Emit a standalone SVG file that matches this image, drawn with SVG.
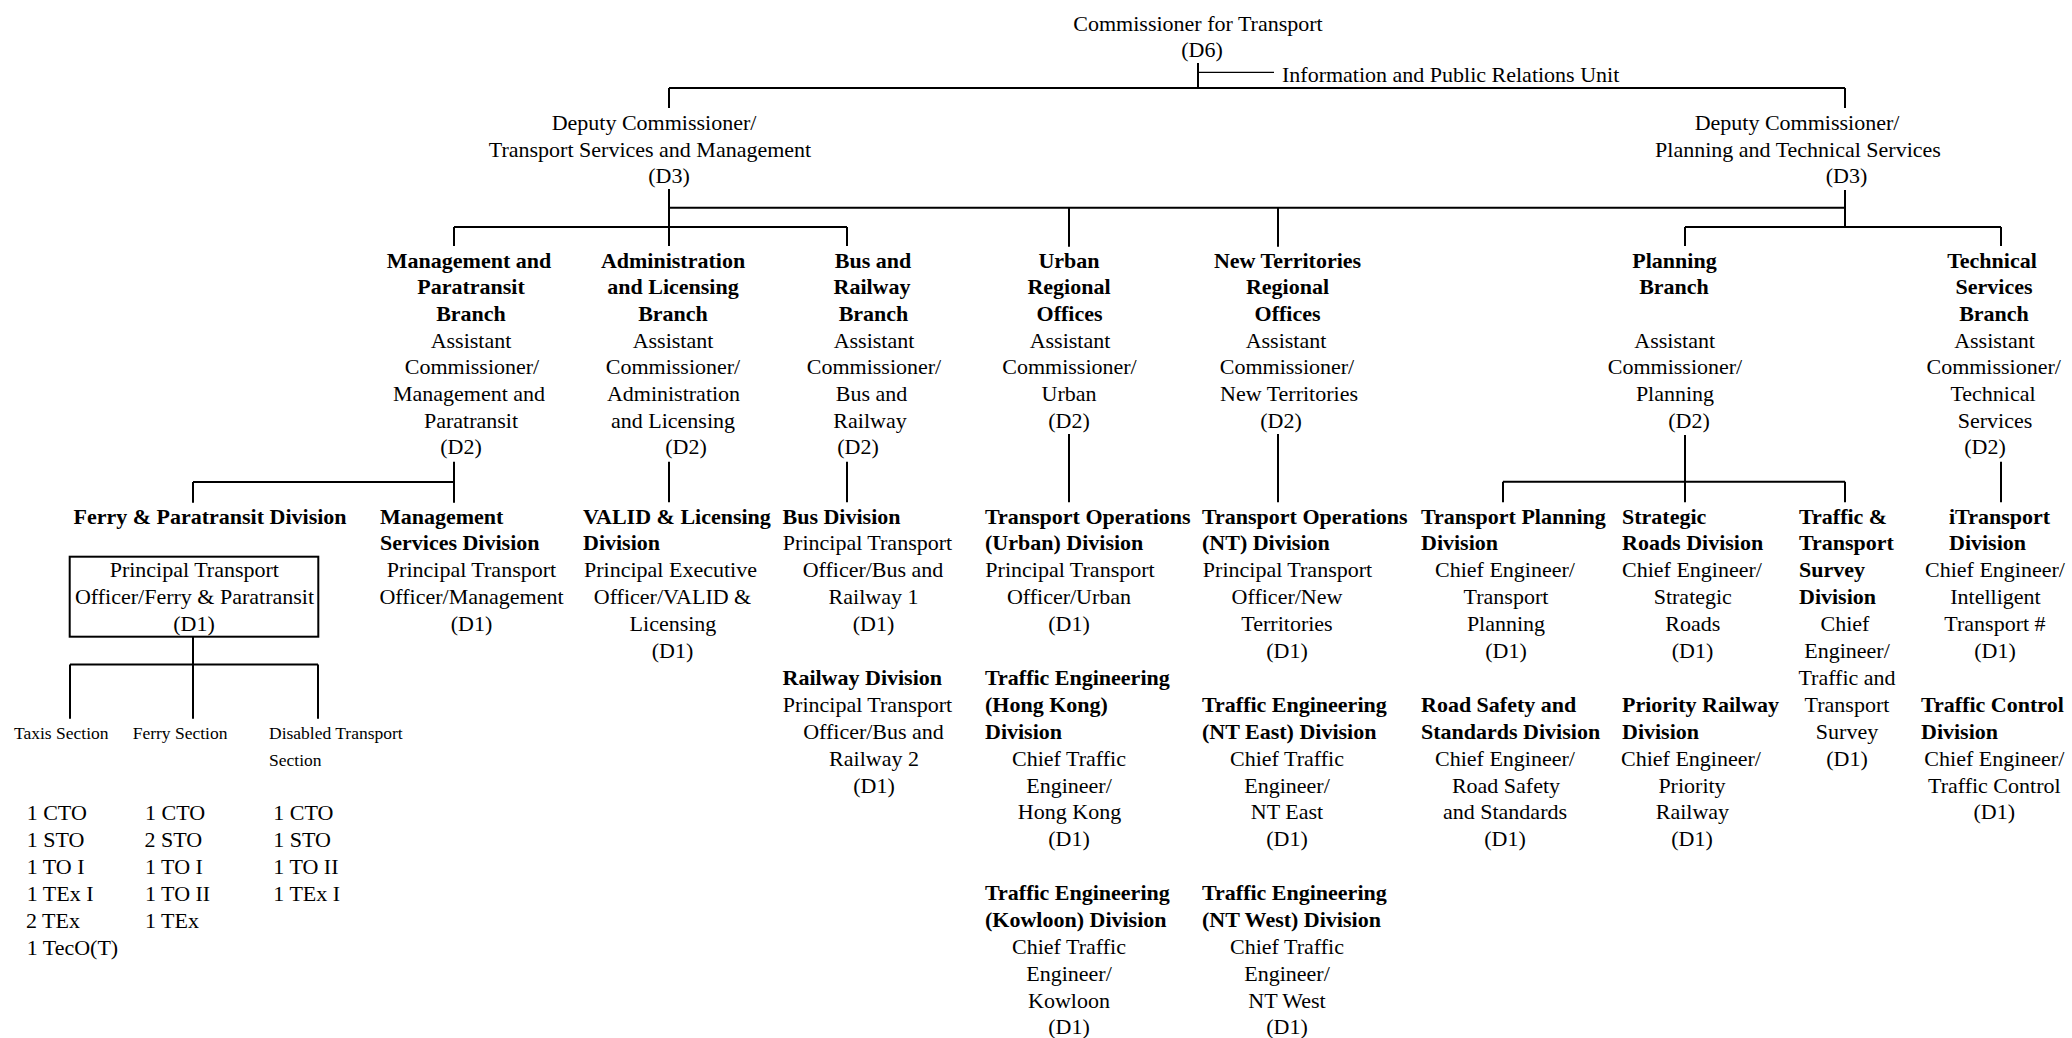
<svg xmlns="http://www.w3.org/2000/svg" width="2072" height="1038" viewBox="0 0 2072 1038">
<style>
text{font-family:"Liberation Serif","Times New Roman",serif;font-size:22px;fill:#000}
.b{font-weight:bold}
.m{text-anchor:middle}
.s{font-size:17.5px}
.ln{stroke:#000;stroke-width:2;fill:none}
.thin{stroke:#000;stroke-width:1.2;fill:none}
</style>
<rect width="2072" height="1038" fill="#fff"/>
<g id="connectors">
<path class="ln" d="M1198,63V88M669,88H1845M669,88V108M1845,88V108"/>
<path class="thin" d="M1198,72.3H1274"/>
<path class="ln" d="M669,189V246M669,207.7H1845M1845,190V227M454,227H847M454,227V246M847,227V246M1069,207.7V246.7M1278,207.7V246.7M1685,227H2001M1685,227V246M2001,227V246"/>
<path class="ln" d="M454,461.7V502.7M193,482H454M193,482V502.7M669,461.7V502.3M847,461.7V502.3M1069,434V502.3M1278,434V502.3M1685,435V502.3M1503,481.7H1845M1503,481.7V502.3M1845,481.7V502.3M2001,461.7V502.3"/>
<path class="ln" d="M193,636.7V718.7M70,664.5H318M70,664.5V718.7M318,664.5V718.7"/>
</g>
<g id="commissioner">
<text class="m"><tspan x="1198" y="30.5">Commissioner for Transport</tspan><tspan x="1202" y="57.2">(D6)</tspan></text>
</g>
<g id="info-unit">
<text x="1282" y="82">Information and Public Relations Unit</text>
</g>
<g id="dc-tsm">
<text class="m"><tspan x="654" y="130">Deputy Commissioner/</tspan><tspan x="650" y="156.7">Transport Services and Management</tspan><tspan x="669" y="183.4">(D3)</tspan></text>
</g>
<g id="dc-pts">
<text class="m"><tspan x="1797" y="130">Deputy Commissioner/</tspan><tspan x="1798" y="156.7">Planning and Technical Services</tspan><tspan x="1846.5" y="183.4">(D3)</tspan></text>
</g>
<g id="br-mp">
<text class="m b"><tspan x="469" y="267.5">Management and</tspan><tspan x="471" y="294.2">Paratransit</tspan><tspan x="471" y="320.9">Branch</tspan></text>
<text class="m"><tspan x="471" y="347.6">Assistant</tspan><tspan x="472" y="374.3">Commissioner/</tspan><tspan x="469" y="401">Management and</tspan><tspan x="471" y="427.7">Paratransit</tspan><tspan x="461" y="454.4">(D2)</tspan></text>
</g>
<g id="br-al">
<text class="m b"><tspan x="673" y="267.5">Administration</tspan><tspan x="673" y="294.2">and Licensing</tspan><tspan x="673" y="320.9">Branch</tspan></text>
<text class="m"><tspan x="673" y="347.6">Assistant</tspan><tspan x="673" y="374.3">Commissioner/</tspan><tspan x="673.5" y="401">Administration</tspan><tspan x="673" y="427.7">and Licensing</tspan><tspan x="686" y="454.4">(D2)</tspan></text>
</g>
<g id="br-br">
<text class="m b"><tspan x="873" y="267.5">Bus and</tspan><tspan x="872" y="294.2">Railway</tspan><tspan x="873.5" y="320.9">Branch</tspan></text>
<text class="m"><tspan x="874" y="347.6">Assistant</tspan><tspan x="874" y="374.3">Commissioner/</tspan><tspan x="871.5" y="401">Bus and</tspan><tspan x="870" y="427.7">Railway</tspan><tspan x="858" y="454.4">(D2)</tspan></text>
</g>
<g id="br-urban">
<text class="m b"><tspan x="1069" y="267.5">Urban</tspan><tspan x="1069" y="294.2">Regional</tspan><tspan x="1069.5" y="320.9">Offices</tspan></text>
<text class="m"><tspan x="1070" y="347.6">Assistant</tspan><tspan x="1069.5" y="374.3">Commissioner/</tspan><tspan x="1069" y="401">Urban</tspan><tspan x="1069" y="427.7">(D2)</tspan></text>
</g>
<g id="br-nt">
<text class="m b"><tspan x="1287.5" y="267.5">New Territories</tspan><tspan x="1287.5" y="294.2">Regional</tspan><tspan x="1287.5" y="320.9">Offices</tspan></text>
<text class="m"><tspan x="1286" y="347.6">Assistant</tspan><tspan x="1287" y="374.3">Commissioner/</tspan><tspan x="1289" y="401">New Territories</tspan><tspan x="1281" y="427.7">(D2)</tspan></text>
</g>
<g id="br-planning">
<text class="m b"><tspan x="1674.5" y="267.5">Planning</tspan><tspan x="1674" y="294.2">Branch</tspan></text>
<text class="m"><tspan x="1674.7" y="347.6">Assistant</tspan><tspan x="1675" y="374.3">Commissioner/</tspan><tspan x="1675" y="401">Planning</tspan><tspan x="1689" y="427.7">(D2)</tspan></text>
</g>
<g id="br-tech">
<text class="m b"><tspan x="1992" y="267.5">Technical</tspan><tspan x="1994" y="294.2">Services</tspan><tspan x="1994" y="320.9">Branch</tspan></text>
<text class="m"><tspan x="1994.5" y="347.6">Assistant</tspan><tspan x="1993.7" y="374.3">Commissioner/</tspan><tspan x="1993" y="401">Technical</tspan><tspan x="1995" y="427.7">Services</tspan><tspan x="1985" y="454.4">(D2)</tspan></text>
</g>
<g id="div-ferry">
<text class="m b" x="210" y="523.5">Ferry &amp; Paratransit Division</text>
<rect x="69.7" y="556.7" width="248.6" height="80" class="ln"/>
<text class="m"><tspan x="194.3" y="577.3">Principal Transport</tspan><tspan x="194.5" y="604.2">Officer/Ferry &amp; Paratransit</tspan><tspan x="194" y="631.1">(D1)</tspan></text>
</g>
<g id="sec-taxis">
<text class="s" x="14" y="739">Taxis Section</text>
<text><tspan x="26.7" y="819.5">1 CTO</tspan><tspan x="26.7" y="846.6">1 STO</tspan><tspan x="26.7" y="873.7">1 TO I</tspan><tspan x="26.7" y="900.8">1 TEx I</tspan><tspan x="26" y="927.9">2 TEx</tspan><tspan x="26.7" y="955">1 TecO(T)</tspan></text>
</g>
<g id="sec-ferry">
<text class="s" x="132.7" y="739">Ferry Section</text>
<text><tspan x="145" y="819.5">1 CTO</tspan><tspan x="144.5" y="846.6">2 STO</tspan><tspan x="145" y="873.7">1 TO I</tspan><tspan x="145" y="900.8">1 TO II</tspan><tspan x="145" y="927.9">1 TEx</tspan></text>
</g>
<g id="sec-disabled">
<text class="s"><tspan x="269" y="739">Disabled Transport</tspan><tspan x="269" y="766">Section</tspan></text>
<text><tspan x="273.3" y="819.5">1 CTO</tspan><tspan x="273.3" y="846.6">1 STO</tspan><tspan x="273.3" y="873.7">1 TO II</tspan><tspan x="273.3" y="900.8">1 TEx I</tspan></text>
</g>
<g id="div-mgmt">
<text class="b"><tspan x="380" y="523.5">Management</tspan><tspan x="380" y="550.4">Services Division</tspan></text>
<text class="m"><tspan x="471.5" y="577.3">Principal Transport</tspan><tspan x="471.5" y="604.2">Officer/Management</tspan><tspan x="471.5" y="631.1">(D1)</tspan></text>
</g>
<g id="div-valid">
<text class="b"><tspan x="583" y="523.5">VALID &amp; Licensing</tspan><tspan x="583" y="550.4">Division</tspan></text>
<text class="m"><tspan x="670.5" y="577.3">Principal Executive</tspan><tspan x="672.5" y="604.2">Officer/VALID &amp;</tspan><tspan x="673" y="631.1">Licensing</tspan><tspan x="672.5" y="658">(D1)</tspan></text>
</g>
<g id="div-bus">
<text class="b" x="782.5" y="523.5">Bus Division</text>
<text class="m"><tspan x="867.5" y="550.4">Principal Transport</tspan><tspan x="873" y="577.3">Officer/Bus and</tspan><tspan x="873.5" y="604.2">Railway 1</tspan><tspan x="873.5" y="631.1">(D1)</tspan></text>
</g>
<g id="div-railway">
<text class="b" x="782.5" y="684.9">Railway Division</text>
<text class="m"><tspan x="867.5" y="711.8">Principal Transport</tspan><tspan x="873.5" y="738.7">Officer/Bus and</tspan><tspan x="874" y="765.6">Railway 2</tspan><tspan x="874" y="792.5">(D1)</tspan></text>
</g>
<g id="div-to-urban">
<text class="b"><tspan x="985" y="523.5">Transport Operations</tspan><tspan x="985" y="550.4">(Urban) Division</tspan></text>
<text class="m"><tspan x="1070" y="577.3">Principal Transport</tspan><tspan x="1069" y="604.2">Officer/Urban</tspan><tspan x="1069" y="631.1">(D1)</tspan></text>
</g>
<g id="div-te-hk">
<text class="b"><tspan x="985" y="684.9">Traffic Engineering</tspan><tspan x="985" y="711.8">(Hong Kong)</tspan><tspan x="985" y="738.7">Division</tspan></text>
<text class="m"><tspan x="1069" y="765.6">Chief Traffic</tspan><tspan x="1069" y="792.5">Engineer/</tspan><tspan x="1069.5" y="819.4">Hong Kong</tspan><tspan x="1069" y="846.3">(D1)</tspan></text>
</g>
<g id="div-te-kln">
<text class="b"><tspan x="985" y="900.1">Traffic Engineering</tspan><tspan x="985" y="927">(Kowloon) Division</tspan></text>
<text class="m"><tspan x="1069" y="953.9">Chief Traffic</tspan><tspan x="1069" y="980.8">Engineer/</tspan><tspan x="1069" y="1007.7">Kowloon</tspan><tspan x="1069" y="1034.3">(D1)</tspan></text>
</g>
<g id="div-to-nt">
<text class="b"><tspan x="1202" y="523.5">Transport Operations</tspan><tspan x="1202" y="550.4">(NT) Division</tspan></text>
<text class="m"><tspan x="1287.5" y="577.3">Principal Transport</tspan><tspan x="1287" y="604.2">Officer/New</tspan><tspan x="1287" y="631.1">Territories</tspan><tspan x="1287" y="658">(D1)</tspan></text>
</g>
<g id="div-te-nte">
<text class="b"><tspan x="1202" y="711.8">Traffic Engineering</tspan><tspan x="1202" y="738.7">(NT East) Division</tspan></text>
<text class="m"><tspan x="1287" y="765.6">Chief Traffic</tspan><tspan x="1287" y="792.5">Engineer/</tspan><tspan x="1287" y="819.4">NT East</tspan><tspan x="1287" y="846.3">(D1)</tspan></text>
</g>
<g id="div-te-ntw">
<text class="b"><tspan x="1202" y="900.1">Traffic Engineering</tspan><tspan x="1202" y="927">(NT West) Division</tspan></text>
<text class="m"><tspan x="1287" y="953.9">Chief Traffic</tspan><tspan x="1287" y="980.8">Engineer/</tspan><tspan x="1287" y="1007.7">NT West</tspan><tspan x="1287" y="1034.3">(D1)</tspan></text>
</g>
<g id="div-tp">
<text class="b"><tspan x="1421" y="523.5">Transport Planning</tspan><tspan x="1421" y="550.4">Division</tspan></text>
<text class="m"><tspan x="1505" y="577.3">Chief Engineer/</tspan><tspan x="1506" y="604.2">Transport</tspan><tspan x="1506" y="631.1">Planning</tspan><tspan x="1506" y="658">(D1)</tspan></text>
</g>
<g id="div-rss">
<text class="b"><tspan x="1421" y="711.8">Road Safety and</tspan><tspan x="1421" y="738.7">Standards Division</tspan></text>
<text class="m"><tspan x="1505" y="765.6">Chief Engineer/</tspan><tspan x="1506" y="792.5">Road Safety</tspan><tspan x="1505" y="819.4">and Standards</tspan><tspan x="1505" y="846.3">(D1)</tspan></text>
</g>
<g id="div-sr">
<text class="b"><tspan x="1622" y="523.5">Strategic</tspan><tspan x="1622" y="550.4">Roads Division</tspan></text>
<text class="m"><tspan x="1692" y="577.3">Chief Engineer/</tspan><tspan x="1692.8" y="604.2">Strategic</tspan><tspan x="1692.8" y="631.1">Roads</tspan><tspan x="1692.5" y="658">(D1)</tspan></text>
</g>
<g id="div-pr">
<text class="b"><tspan x="1622" y="711.8">Priority Railway</tspan><tspan x="1622" y="738.7">Division</tspan></text>
<text class="m"><tspan x="1691" y="765.6">Chief Engineer/</tspan><tspan x="1692" y="792.5">Priority</tspan><tspan x="1692.4" y="819.4">Railway</tspan><tspan x="1692" y="846.3">(D1)</tspan></text>
</g>
<g id="div-tts">
<text class="b"><tspan x="1799" y="523.5">Traffic &amp;</tspan><tspan x="1799" y="550.4">Transport</tspan><tspan x="1799" y="577.3">Survey</tspan><tspan x="1799" y="604.2">Division</tspan></text>
<text class="m"><tspan x="1845" y="631.1">Chief</tspan><tspan x="1847" y="658">Engineer/</tspan><tspan x="1847" y="684.9">Traffic and</tspan><tspan x="1847" y="711.8">Transport</tspan><tspan x="1847" y="738.7">Survey</tspan><tspan x="1847" y="765.6">(D1)</tspan></text>
</g>
<g id="div-itransport">
<text class="b"><tspan x="1949" y="523.5">iTransport</tspan><tspan x="1949" y="550.4">Division</tspan></text>
<text class="m"><tspan x="1995" y="577.3">Chief Engineer/</tspan><tspan x="1995.5" y="604.2">Intelligent</tspan><tspan x="1995" y="631.1">Transport #</tspan><tspan x="1995" y="658">(D1)</tspan></text>
</g>
<g id="div-tc">
<text class="b"><tspan x="1921" y="711.8">Traffic Control</tspan><tspan x="1921" y="738.7">Division</tspan></text>
<text class="m"><tspan x="1994.3" y="765.6">Chief Engineer/</tspan><tspan x="1994.3" y="792.5">Traffic Control</tspan><tspan x="1994.3" y="819.4">(D1)</tspan></text>
</g>
</svg>
